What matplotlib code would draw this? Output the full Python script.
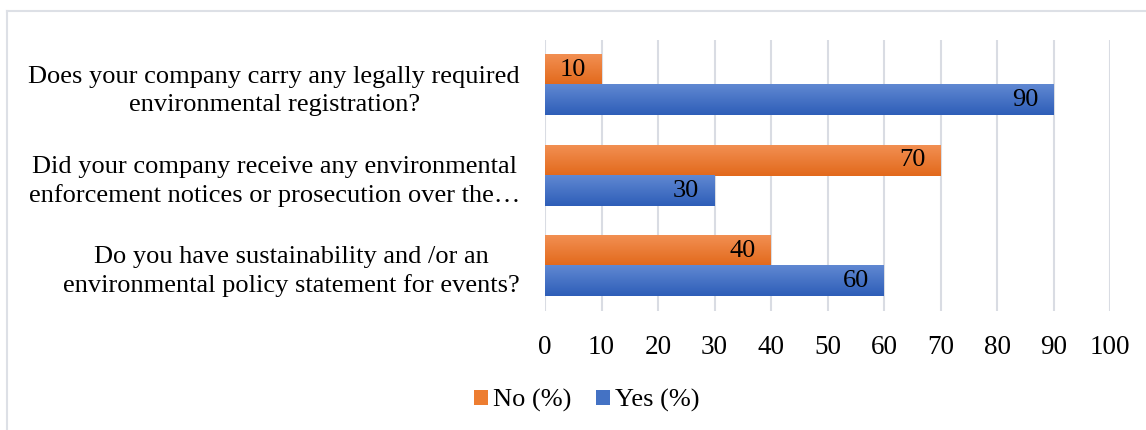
import matplotlib
matplotlib.use("Agg")
import matplotlib.pyplot as plt
from matplotlib.colors import LinearSegmentedColormap
import numpy as np

questions = [
    "Does your company carry any legally required\nenvironmental registration?",
    "Did your company receive any environmental\nenforcement notices or prosecution over the\u2026",
    "Do you have sustainability and /or an\nenvironmental policy statement for events?",
]
no_pct = [10, 70, 40]
yes_pct = [90, 30, 60]
ticks = [0, 10, 20, 30, 40, 50, 60, 70, 80, 90, 100]

plt.rcParams['font.family'] = ['Liberation Serif', 'DejaVu Serif']

orange = '#ED7D31'
blue = '#4472C4'
cm_orange = LinearSegmentedColormap.from_list('o', ['#F28F52', '#E2691B'])
cm_blue = LinearSegmentedColormap.from_list('b', ['#6088D2', '#2E5EB8'])

fig = plt.figure(figsize=(11.46, 4.3), dpi=100)
ax = fig.add_axes([0.4756, 0.2767, 0.4930, 0.6303])

y = np.arange(len(questions))
h = 1 / 3
b_no = ax.barh(y - h / 2, no_pct, height=h, color=orange, label='No (%)', zorder=2)
b_yes = ax.barh(y + h / 2, yes_pct, height=h, color=blue, label='Yes (%)', zorder=2)

# vertical gradient fill like the Excel bars
grad = np.linspace(0, 1, 64).reshape(-1, 1)
for bars, cm in ((b_no, cm_orange), (b_yes, cm_blue)):
    for rect in bars:
        x0, y0 = rect.get_x(), rect.get_y()
        x1, y1 = x0 + rect.get_width(), y0 + rect.get_height()
        ax.imshow(grad, cmap=cm, extent=[x0, x1, y1, y0], aspect='auto',
                  origin='upper', zorder=3, interpolation='bilinear')

for bars in (b_no, b_yes):
    for rect in bars:
        w = rect.get_width()
        ax.annotate(str(int(w)), (w, rect.get_y() + rect.get_height() / 2),
                    xytext=(-11, 0), textcoords='offset points',
                    ha='right', va='center', fontsize=19, color='black', zorder=4)

ax.set_ylim(len(questions) - 0.5, -0.5)
ax.set_xlim(0, 100)
ax.set_xticks(ticks)
ax.set_yticks(y)
ax.set_yticklabels(questions, multialignment='center', linespacing=1.35)
ax.tick_params(axis='x', labelsize=19.5, length=0, pad=17)
ax.tick_params(axis='y', labelsize=19, length=0, pad=18)
ax.grid(axis='x', color='#D9DCE3', linewidth=1.5, zorder=0)
ax.set_axisbelow(True)
for s in ax.spines.values():
    s.set_visible(False)

fig.legend(handles=[b_no, b_yes], loc='center', bbox_to_anchor=(0.512, 0.068),
           ncol=2, frameon=False, fontsize=19, handlelength=0.55, handleheight=0.55,
           handletextpad=0.2, columnspacing=0.9)

# light outer frame (top and left edges visible)
fig.add_artist(plt.Line2D([0.0065, 1], [0.975, 0.975], color='#DDE0E6', linewidth=1.5, transform=fig.transFigure))
fig.add_artist(plt.Line2D([0.0065, 0.0065], [0, 0.975], color='#DDE0E6', linewidth=1.5, transform=fig.transFigure))

fig.savefig('out.png', dpi=100)
